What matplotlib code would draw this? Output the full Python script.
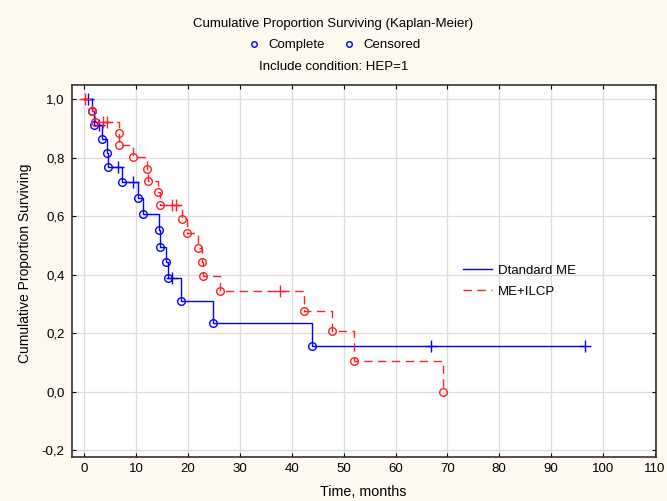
import matplotlib.pyplot as plt
import numpy as np
from matplotlib.lines import Line2D

plt.rcParams['font.family'] = ['Liberation Sans', 'DejaVu Sans']

# Dtandard ME: event times (complete) and survival after each event
std_times = [1.4, 1.9, 3.3, 4.4, 4.6, 7.2, 10.4, 11.3, 14.4, 14.5, 15.8, 16.1, 18.6, 24.8, 43.9]
std_surv = [0.958, 0.913, 0.864, 0.815, 0.767, 0.718, 0.662, 0.607, 0.553, 0.496, 0.444, 0.389, 0.311, 0.235, 0.157]
std_cens = [0.7, 2.9, 6.5, 9.4, 16.9, 66.9, 96.5]
std_end = 96.5

# ME+ILCP
ilcp_times = [1.5, 2.0, 6.7, 6.75, 9.3, 12.0, 12.2, 14.1, 14.6, 18.8, 19.8, 21.9, 22.6, 22.9, 26.1, 42.3, 47.8, 52.0, 69.1]
ilcp_surv = [0.958, 0.923, 0.883, 0.843, 0.803, 0.763, 0.721, 0.681, 0.638, 0.590, 0.541, 0.491, 0.444, 0.394, 0.343, 0.275, 0.206, 0.104, 0.0]
ilcp_cens = [0.1, 3.6, 4.3, 16.9, 17.7, 37.7]
ilcp_end = 69.1

bg = '#fdf9ef'
fig = plt.figure(figsize=(6.67, 5.01), dpi=100, facecolor=bg)
ax = fig.add_axes([0.1072, 0.087, 0.876, 0.743])
ax.set_facecolor('white')


def surv_at(times, surv, t):
    s = 1.0
    for ti, si in zip(times, surv):
        if ti <= t:
            s = si
    return s


def draw_km(times, surv, cens, end, color, ls, label):
    xs = [0] + times + [end]
    ys = [1.0] + surv + [surv[-1]]
    ax.plot(xs, ys, drawstyle='steps-post', color=color, ls=ls, lw=1.0,
            dashes=(6, 4) if ls == '--' else (None, None), label=label, zorder=3)
    ax.plot(times, surv, 'o', mfc='none', mec=color, ms=5.5, mew=1.0, zorder=4)
    cy = [surv_at(times, surv, c) for c in cens]
    ax.plot(cens, cy, '+', color=color, ms=8, mew=1.0, zorder=4)


draw_km(std_times, std_surv, std_cens, std_end, '#0000ff', '-', 'Dtandard ME')
draw_km(ilcp_times, ilcp_surv, ilcp_cens, ilcp_end, '#ff2020', '--', 'ME+ILCP')

ax.set_xlim(-2.5, 110.2)
ax.set_ylim(-0.225, 1.048)
ax.set_xticks(np.arange(0, 111, 10))
yt = np.arange(-0.2, 1.01, 0.2)
ax.set_yticks(yt)
ax.set_yticklabels([f'{v:.1f}'.replace('.', ',').replace('-0,0', '0,0') for v in yt])
ax.grid(True, color='#dcdcdc', lw=0.9)
ax.set_axisbelow(True)
ax.tick_params(labelsize=9.5, length=3, direction='in', top=True, right=True, pad=5)
ax.tick_params(axis='x', pad=4)
for s in ax.spines.values():
    s.set_linewidth(1.2)
    s.set_color('#333333')

ax.set_xlabel('Time, months', fontsize=10.3, labelpad=7)
ax.set_ylabel('Cumulative Proportion Surviving', fontsize=10)
ax.yaxis.set_label_coords(-0.068, 0.522)

ax.legend(loc='upper left', bbox_to_anchor=(0.649, 0.55), frameon=False,
          fontsize=9.5, handlelength=2.2, handletextpad=0.5, labelspacing=0.65)

fig.text(0.5, 0.952, 'Cumulative Proportion Surviving (Kaplan-Meier)', ha='center', va='center', fontsize=9.5)
fig.text(0.5, 0.867, 'Include condition: HEP=1', ha='center', va='center', fontsize=9.5)
hdr = [Line2D([], [], ls='none', marker='o', mfc='none', mec='#0000ff', ms=4, mew=1.0),
       Line2D([], [], ls='none', marker='o', mfc='none', mec='#0000ff', ms=4, mew=1.0)]
fig.legend(hdr, ['Complete', 'Censored'], loc='center', bbox_to_anchor=(0.5, 0.91), ncol=2,
           frameon=False, fontsize=9.5, handlelength=1.2, handletextpad=0.5, columnspacing=1.2)

fig.savefig('out.png', dpi=100, facecolor=bg)
